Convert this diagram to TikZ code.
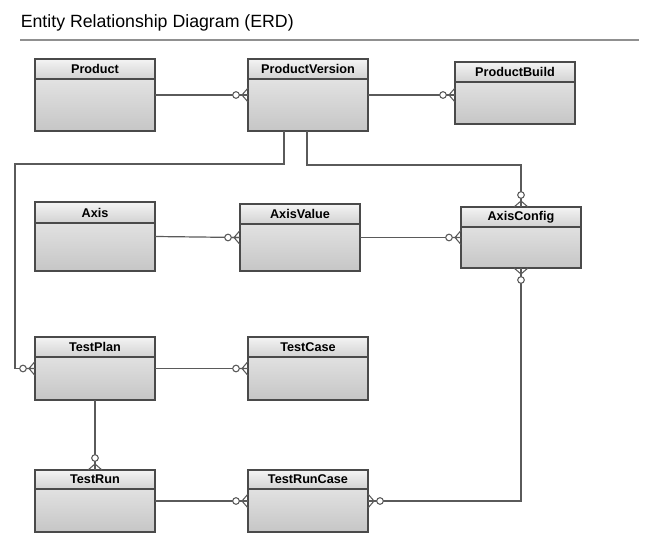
\documentclass[tikz,border=0pt]{standalone}
\usepackage{fontspec}
\setmainfont{Liberation Sans}
\definecolor{hdtop}{HTML}{F4F4F4}
\definecolor{hdbot}{HTML}{D2D2D2}
\definecolor{bdtop}{HTML}{EDEDED}
\definecolor{bdbot}{HTML}{C6C6C6}
\definecolor{edge}{HTML}{4A4A4A}
\definecolor{conn}{HTML}{5A5A5A}
\definecolor{rule}{HTML}{909090}
\tikzset{
  ent/.style={draw=edge, line width=0.9pt, top color=bdtop, bottom color=bdbot,
    minimum width=90pt, inner sep=0pt, outer sep=0pt, rectangle},
  hdr/.style={draw=edge, line width=0.9pt, top color=hdtop, bottom color=hdbot},
  lbl/.style={font=\fontsize{9.5}{11}\selectfont\bfseries, text=black, inner sep=0pt},
  rel/.style={draw=conn, line width=0.9pt},
  crowline/.style={draw=conn, line width=0.8pt},
}
% name, x-left, y-top, height(px), header height(px), label
\newcommand\entity[6]{%
  \node[ent, minimum height=#4*0.75pt, anchor=north west] (#1) at (#2,#3) {};
  \path[hdr] (#1.north west) rectangle ([yshift=-#5*0.75pt]#1.north east);
  \node[lbl] (#1-t) at ([yshift=-#5*0.375pt]#1.north) {#6};
}
% crow's foot with circle: point, outward angle
\newcommand\crowfoot[2]{%
  \begin{scope}[shift={(#1)}, rotate=#2]
    \draw[crowline] (6,0) -- (0,7) (6,0) -- (0,-7) (0,0) -- (9,0);
    \draw[crowline, fill=white] (12,0) circle (3.3);
  \end{scope}
}
\begin{document}
\begin{tikzpicture}[x=0.75pt, y=-0.75pt]
\useasboundingbox (0,0) rectangle (664,552);
% title
\node[anchor=base west, inner sep=0pt, font=\fontsize{13.3}{15}\selectfont] (title) at (20.5,28) {Entity Relationship Diagram (ERD)};
\coordinate (rl) at (20,40);
\coordinate (rr) at (639,40);
\draw[rule, line width=1.1pt] (rl) -- (rr);

% entities
\entity{product}{35}{59}{72}{20}{Product}
\entity{pv}{248}{59}{72}{20}{ProductVersion}
\entity{pb}{455}{62}{62}{20}{ProductBuild}
\entity{axis}{35}{202}{69}{21}{Axis}
\entity{av}{240}{204}{67}{20}{AxisValue}
\entity{ac}{461}{207}{61}{20}{AxisConfig}
\entity{tp}{35}{337}{63}{20}{TestPlan}
\entity{tc}{248}{337}{63}{20}{TestCase}
\entity{tr}{35}{470}{62}{19}{TestRun}
\entity{trc}{248}{470}{62}{19}{TestRunCase}

% connectors
\draw[rel] (product.east) -- (pv.west);
\crowfoot{pv.west}{180}

\coordinate (pbin) at (pv.east -| pb.west);
\draw[rel] (pv.east) -- (pbin);
\crowfoot{pbin}{180}

\coordinate (pvl) at ([xshift=27pt]pv.south west);
\coordinate (lroute) at (15,164);
\draw[rel] (pvl) |- (lroute) |- (tp.west);
\crowfoot{tp.west}{180}

\coordinate (pvr) at ([xshift=44.25pt]pv.south west);
\coordinate (rroute) at (521,165);
\draw[rel] (pvr) |- (rroute) -- (ac.north);
\crowfoot{ac.north}{90}

\draw[rel] (axis.east) -- (av.west);
\crowfoot{av.west}{180}

\draw[rel] (av.east) -- (ac.west);
\crowfoot{ac.west}{180}

\draw[rel] (ac.south) |- (trc.east);
\crowfoot{ac.south}{-90}
\crowfoot{trc.east}{0}

\draw[rel] (tp.east) -- (tc.west);
\crowfoot{tc.west}{180}

\draw[rel] (tp.south) -- (tr.north);
\crowfoot{tr.north}{90}

\draw[rel] (tr.east) -- (trc.west);
\crowfoot{trc.west}{180}
\end{tikzpicture}
\end{document}
